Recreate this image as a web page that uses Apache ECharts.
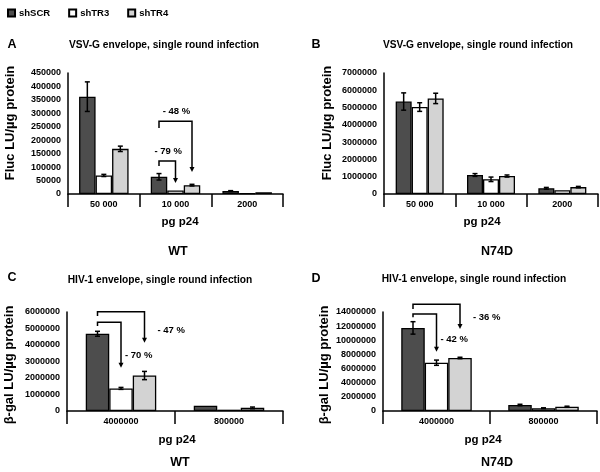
<!DOCTYPE html>
<html><head><meta charset="utf-8">
<script src="https://cdn.jsdelivr.net/npm/echarts@6/dist/echarts.min.js"></script>
<style>html,body{margin:0;padding:0;background:#fff}#c{width:600px;height:472px}</style>
</head><body><div id="c"></div>
<script>
// ---------- data ----------
const seriesNames = ['shSCR', 'shTR3', 'shTR4'];
const catsVSV = ['50 000', '10 000', '2000'];
const catsHIV = ['4000000', '800000'];

// Panel A (WT, VSV-G, Fluc)
const aSCR = [362000, 64000, 11000];   const aSCRerr = [55000, 12000, 1500];
const aTR3 = [69000, 13000, 3000];     const aTR3err = [4000, 0, 0];
const aTR4 = [168000, 33000, 6500];    const aTR4err = [10000, 3000, 0];
const aTicks = { max: 450000, interval: 50000 };

// Panel B (N74D, VSV-G, Fluc)
const bSCR = [5350000, 1100000, 330000]; const bSCRerr = [500000, 80000, 50000];
const bTR3 = [5030000, 850000, 220000];  const bTR3err = [250000, 130000, 0];
const bTR4 = [5530000, 1040000, 400000]; const bTR4err = [300000, 60000, 40000];
const bTicks = { max: 7000000, interval: 1000000 };

// Panel C (WT, HIV-1, beta-gal)
const cSCR = [4680000, 320000];  const cSCRerr = [150000, 0];
const cTR3 = [1370000, 80000];   const cTR3err = [60000, 0];
const cTR4 = [2150000, 190000];  const cTR4err = [250000, 50000];
const cTicks = { max: 6000000, interval: 1000000 };

// Panel D (N74D, HIV-1, beta-gal)
const dSCR = [11750000, 850000]; const dSCRerr = [880000, 100000];
const dTR3 = [6830000, 400000];  const dTR3err = [370000, 50000];
const dTR4 = [7500000, 600000];  const dTR4err = [100000, 80000];
const dTicks = { max: 14000000, interval: 2000000 };

// annotation brackets: [category, fromBar, toBar, startValue, topValue, endValue]
const aBrackets = [[1, 0, 1, 104000, 123000, 41000], [1, 0, 2, 245000, 271000, 82000]];
const aBracketLabels = ['- 79 %', '- 48 %'];
const cBrackets = [[0, 0, 1, 5150000, 5380000, 2620000], [0, 0, 2, 5760000, 6020000, 4140000]];
const cBracketLabels = ['- 70 %', '- 47 %'];
const dBrackets = [[0, 0, 1, 13250000, 13720000, 8390000], [0, 0, 2, 14430000, 15090000, 11600000]];
const dBracketLabels = ['- 42 %', '- 36 %'];

// ---------- layout / style ----------
const FONT = '"Liberation Sans", Arial, sans-serif';
const fills = ['#4d4d4d', '#ffffff', '#d3d3d3'];

const panels = [
  { cats: catsVSV, vals: [aSCR, aTR3, aTR4], errs: [aSCRerr, aTR3err, aTR4err], ticks: aTicks,
    brackets: aBrackets, labels: aBracketLabels, labelMode: 'above',
    grid: { left: 68, right: 317, top: 73, bottom: 278 }, bw: 16.5 },
  { cats: catsVSV, vals: [bSCR, bTR3, bTR4], errs: [bSCRerr, bTR3err, bTR4err], ticks: bTicks,
    brackets: [], labels: [], labelMode: 'above',
    grid: { left: 384, right: 2, top: 73, bottom: 278 }, bw: 16 },
  { cats: catsHIV, vals: [cSCR, cTR3, cTR4], errs: [cSCRerr, cTR3err, cTR4err], ticks: cTicks,
    brackets: cBrackets, labels: cBracketLabels, labelMode: 'right',
    grid: { left: 67, right: 317, top: 312, bottom: 61 }, bw: 23.5 },
  { cats: catsHIV, vals: [dSCR, dTR3, dTR4], errs: [dSCRerr, dTR3err, dTR4err], ticks: dTicks,
    brackets: dBrackets, labels: dBracketLabels, labelMode: 'right',
    grid: { left: 383, right: 3, top: 312, bottom: 61 }, bw: 23.5 }
];

const grids = [], xAxes = [], yAxes = [], series = [];
panels.forEach((p, gi) => {
  grids.push(Object.assign({ containLabel: false }, p.grid));
  xAxes.push({
    type: 'category', gridIndex: gi, data: p.cats,
    axisLine: { lineStyle: { color: '#000', width: 1.5 } },
    axisTick: { show: true, length: 13, interval: 0, lineStyle: { color: '#000', width: 1.5 } },
    axisLabel: { color: '#000', fontFamily: FONT, fontWeight: 'bold', fontSize: 9, margin: 6, interval: 0 },
    splitLine: { show: false }
  });
  yAxes.push({
    type: 'value', gridIndex: gi, min: 0, max: p.ticks.max, interval: p.ticks.interval,
    axisLine: { show: true, lineStyle: { color: '#000', width: 1.5 } },
    axisTick: { show: false },
    axisLabel: { color: '#000', fontFamily: FONT, fontWeight: 'bold', fontSize: 9, margin: 7,
      formatter: v => String(v) },
    splitLine: { show: false }
  });
  seriesNames.forEach((nm, si) => {
    series.push({
      type: 'bar', name: nm, xAxisIndex: gi, yAxisIndex: gi,
      data: p.vals[si], barWidth: p.bw, barGap: '0%',
      itemStyle: { color: fills[si], borderColor: '#000', borderWidth: 1.3 },
      emphasis: { disabled: true }, z: 2
    });
  });
  // error bars
  const errData = [];
  p.vals.forEach((arr, si) => arr.forEach((v, ci) => errData.push([ci, v, p.errs[si][ci], si])));
  const bw = p.bw;
  series.push({
    type: 'custom', xAxisIndex: gi, yAxisIndex: gi, data: errData, z: 5, silent: true,
    encode: { x: 0, y: 1 },
    renderItem: function (params, api) {
      const ci = api.value(0), v = api.value(1), e = api.value(2), si = api.value(3);
      if (!e) return null;
      const c = api.coord([ci, v]);
      const x = c[0] + (si - 1) * bw;
      const yt = api.coord([ci, v + e])[1], yb = api.coord([ci, v - e])[1];
      const st = { stroke: '#000', lineWidth: 1.5 };
      return { type: 'group', children: [
        { type: 'line', shape: { x1: x, y1: yt, x2: x, y2: yb }, style: st },
        { type: 'line', shape: { x1: x - 2.5, y1: yt, x2: x + 2.5, y2: yt }, style: st },
        { type: 'line', shape: { x1: x - 2.5, y1: yb, x2: x + 2.5, y2: yb }, style: st }
      ] };
    }
  });
  // brackets
  if (p.brackets.length) {
    const labels = p.labels, mode = p.labelMode;
    series.push({
      type: 'custom', xAxisIndex: gi, yAxisIndex: gi, data: p.brackets, z: 6, silent: true, clip: false,
      encode: { x: 0, y: 4 },
      renderItem: function (params, api) {
        const ci = api.value(0), fb = api.value(1), tb = api.value(2);
        const s = api.value(3), t = api.value(4), e = api.value(5);
        const cx = api.coord([ci, 0])[0];
        const x1 = cx + (fb - 1) * bw, x2 = cx + (tb - 1) * bw;
        const ys = api.coord([ci, s])[1], yt = api.coord([ci, t])[1], ye = api.coord([ci, e])[1];
        const st = { stroke: '#000', lineWidth: 1.5, fill: null };
        const lbl = labels[params.dataIndex];
        let tx, ty, ta;
        if (mode === 'above') { tx = (x1 + x2) / 2 + 1; ty = yt - 10; ta = 'center'; }
        else { tx = x2 + (tb === 1 ? 4 : 13); ty = ye - 12; ta = 'left'; }
        return { type: 'group', children: [
          { type: 'polyline', shape: { points: [[x1, ys], [x1, yt], [x2, yt], [x2, ye - 4]] }, style: st },
          { type: 'polygon', shape: { points: [[x2 - 2.5, ye - 5], [x2 + 2.5, ye - 5], [x2, ye]] }, style: { fill: '#000' } },
          { type: 'text', x: tx, y: ty, style: { text: lbl, fill: '#000', font: 'bold 9.5px ' + FONT, textAlign: ta, textVerticalAlign: 'middle' } }
        ] };
      }
    });
  }
});

function txt(text, x, y, size, rot) {
  return { type: 'text', x: x, y: y, rotation: rot || 0, silent: true,
    style: { text: text, fill: '#000', font: 'bold ' + size + 'px ' + FONT, textAlign: 'center', textVerticalAlign: 'middle' } };
}
const R = Math.PI / 2;
const graphics = [
  txt('A', 12, 45, 12.5), txt('B', 316, 45, 12.5), txt('C', 12, 278, 12.5), txt('D', 316, 279, 12.5),
  txt('VSV-G envelope, single round infection', 164, 45, 10.2),
  txt('VSV-G envelope, single round infection', 478, 45, 10.2),
  txt('HIV-1 envelope, single round infection', 160, 280, 10.2),
  txt('HIV-1 envelope, single round infection', 474, 279, 10.2),
  txt('Fluc LU/µg protein', 10, 123, 13, R), txt('Fluc LU/µg protein', 327, 123, 13, R),
  txt('β-gal LU/µg protein', 9, 365, 13, R), txt('β-gal LU/µg protein', 324, 365, 13, R),
  txt('pg p24', 180, 222, 11.5), txt('pg p24', 482, 222, 11.5),
  txt('pg p24', 177, 440, 11.5), txt('pg p24', 483, 440, 11.5),
  txt('WT', 178, 252, 12.5), txt('N74D', 497, 252, 12.5),
  txt('WT', 180, 463, 12.5), txt('N74D', 497, 463, 12.5)
];

const chart = echarts.init(document.getElementById('c'), null, { renderer: 'canvas' });
chart.setOption({
  animation: false,
  backgroundColor: '#fff',
  legend: {
    data: seriesNames, left: 2, top: 3, icon: 'rect', itemWidth: 7, itemHeight: 7, itemGap: 18,
    textStyle: { fontFamily: FONT, fontWeight: 'bold', fontSize: 9.5, color: '#000', padding: [0, 0, 0, -1] },
    selectedMode: false
  },
  grid: grids, xAxis: xAxes, yAxis: yAxes, series: series,
  graphic: graphics
});
</script></body></html>
